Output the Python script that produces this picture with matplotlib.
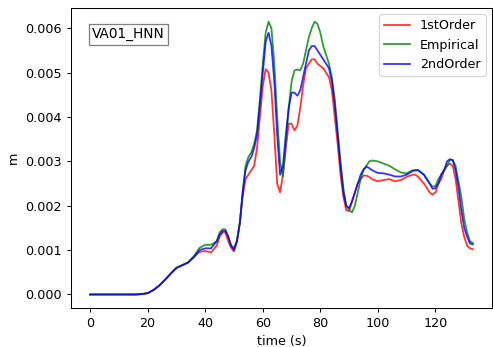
import matplotlib
matplotlib.use("Agg")
import matplotlib.pyplot as plt

# time axis (s)
time = [0, 16, 18, 20, 22, 24, 26, 28, 30, 32, 34, 36,
        38, 40, 42, 44, 45, 46, 47, 48, 49, 50,
        51, 52, 53, 54, 55, 56, 57, 58, 59, 60, 61,
        62, 63, 64, 65, 66, 67, 68, 69, 70, 71, 72,
        73, 74, 75, 76, 77, 78, 79, 80, 81, 82, 83, 84,
        85, 86, 87, 88, 89, 90, 91, 92, 93, 94, 95, 96, 97, 98,
        100, 102, 104, 106, 108, 110, 112, 113, 114, 116, 117, 118, 119, 120,
        121, 122, 123, 124, 125, 126, 127, 128, 129, 130, 131, 132, 133]

first_order = [0, 0, 0.00001, 0.00003, 0.0001, 0.0002, 0.00033, 0.00047, 0.0006, 0.00066, 0.00072, 0.00084,
               0.00096, 0.00098, 0.00095, 0.0011, 0.0013, 0.0014, 0.0014, 0.0012, 0.00105, 0.00097,
               0.0012, 0.0016, 0.0022, 0.0026, 0.0027, 0.0028, 0.0029, 0.0033, 0.004, 0.0047, 0.00508,
               0.0050, 0.0046, 0.0036, 0.0025, 0.0023, 0.0027, 0.0033, 0.00385, 0.00385, 0.0037, 0.0038,
               0.0042, 0.0047, 0.0051, 0.0052, 0.0053, 0.0053, 0.0052, 0.00515, 0.0051, 0.0050, 0.0049, 0.0046,
               0.0040, 0.0034, 0.0027, 0.0022, 0.0019, 0.00188, 0.0021, 0.0023, 0.0025, 0.0026, 0.00268, 0.00268, 0.00265, 0.0026,
               0.00255, 0.00258, 0.0026, 0.00255, 0.00258, 0.00265, 0.0027, 0.0027, 0.00265, 0.0025, 0.0024, 0.0023, 0.00225, 0.0023,
               0.0025, 0.0026, 0.0028, 0.0029, 0.00295, 0.0029, 0.0026, 0.0021, 0.0016, 0.0013, 0.0011, 0.00104, 0.00102]

empirical = [0, 0, 0.00001, 0.00003, 0.0001, 0.0002, 0.00033, 0.00047, 0.0006, 0.00066, 0.00072, 0.00086,
             0.00105, 0.00112, 0.00112, 0.0012, 0.0014, 0.00147, 0.00147, 0.0013, 0.0011, 0.00105,
             0.0012, 0.0016, 0.0023, 0.0029, 0.0031, 0.0032, 0.0034, 0.0037, 0.0044, 0.0052, 0.0059,
             0.00615, 0.0060, 0.0052, 0.0040, 0.0030, 0.00265, 0.0034, 0.0042, 0.0048, 0.00505, 0.00507,
             0.00505, 0.0052, 0.0055, 0.0058, 0.0060, 0.00615, 0.0061, 0.0059, 0.0056, 0.0054, 0.0052, 0.0049,
             0.0044, 0.0037, 0.0030, 0.0024, 0.0020, 0.0019, 0.00185, 0.0020, 0.0023, 0.0026, 0.0028, 0.0029, 0.003, 0.00302,
             0.003, 0.00295, 0.0029, 0.00282, 0.00275, 0.00273, 0.0028, 0.0028, 0.0028, 0.0027, 0.0026, 0.0025, 0.00243, 0.00245,
             0.0026, 0.0027, 0.0028, 0.0029, 0.00303, 0.00303, 0.0029, 0.00255, 0.0022, 0.0017, 0.0014, 0.0012, 0.00116]

second_order = [0, 0, 0.00001, 0.00003, 0.0001, 0.0002, 0.00033, 0.00047, 0.0006, 0.00066, 0.00072, 0.00084,
                0.001, 0.00104, 0.00104, 0.0012, 0.00135, 0.00143, 0.00143, 0.0013, 0.0011, 0.001,
                0.0012, 0.0016, 0.0023, 0.0028, 0.003, 0.0031, 0.0033, 0.0036, 0.0043, 0.005, 0.0057,
                0.0059, 0.0056, 0.0048, 0.0036, 0.0027, 0.0029, 0.0036, 0.0042, 0.00455, 0.00455, 0.00448,
                0.0046, 0.0049, 0.0052, 0.0055, 0.0056, 0.0056, 0.0055, 0.0054, 0.0053, 0.0052, 0.0051, 0.0048,
                0.0043, 0.0036, 0.0029, 0.0023, 0.0020, 0.00195, 0.0021, 0.0023, 0.0025, 0.0027, 0.00282, 0.00288, 0.00285, 0.0028,
                0.00274, 0.00273, 0.0027, 0.00266, 0.00266, 0.0027, 0.00278, 0.0028, 0.0028, 0.0027, 0.0026, 0.0025, 0.00238, 0.0024,
                0.0025, 0.0027, 0.0028, 0.003, 0.00305, 0.00303, 0.0028, 0.0024, 0.0019, 0.0015, 0.0013, 0.00115, 0.00113]

station = "VA01_HNN"

DPI = 92
fig = plt.figure(figsize=(493 / DPI, 347 / DPI), dpi=DPI)
ax = fig.add_axes([0.144, 0.112, 0.854, 0.865])

ax.plot(time, first_order, color='red', alpha=0.8, lw=1.4, label='1stOrder')
ax.plot(time, empirical, color='green', alpha=0.8, lw=1.4, label='Empirical')
ax.plot(time, second_order, color='blue', alpha=0.8, lw=1.4, label='2ndOrder')

# station name in a boxed label, top left
ax.text(0.05, 0.935, station, transform=ax.transAxes, va='top', ha='left', fontsize=10.7,
        bbox=dict(boxstyle='square,pad=0.25', fc='white', ec='gray'))

ax.set_xlabel("time (s)")
ax.set_ylabel("m")
ax.legend(loc='upper right')

fig.savefig("out.png", dpi=DPI)
